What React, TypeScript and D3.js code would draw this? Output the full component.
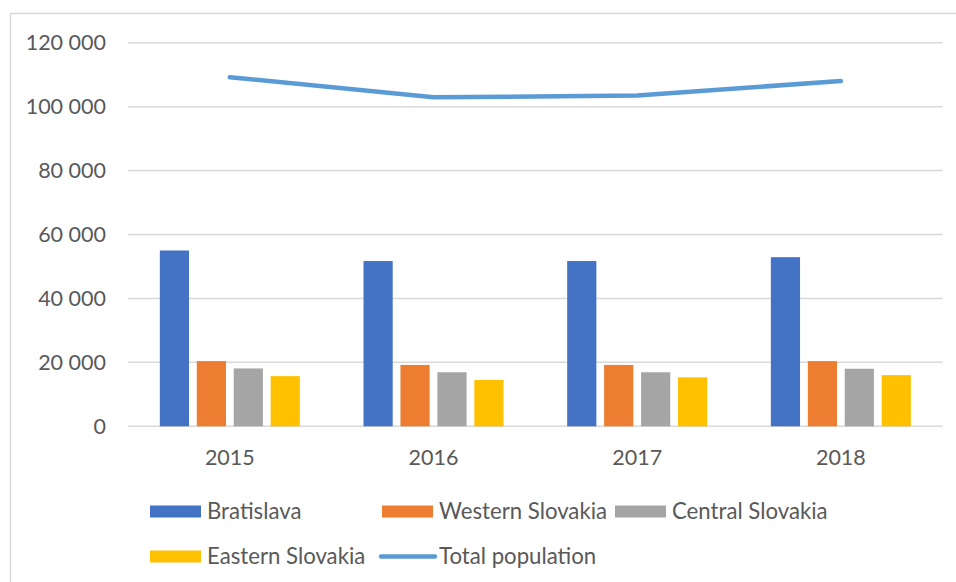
import React from "react";
import * as d3 from "d3";

const years = ["2015", "2016", "2017", "2018"];
const seriesNames = ["Bratislava", "Western Slovakia", "Central Slovakia", "Eastern Slovakia"];
const bratislava = [55000, 51700, 51700, 52900];
const western = [20400, 19200, 19200, 20400];
const central = [18100, 16900, 16900, 18000];
const eastern = [15700, 14500, 15300, 16000];
const total = [109200, 102900, 103500, 108000];
const yTicks = [0, 20000, 40000, 60000, 80000, 100000, 120000];
const lineName = "Total population";

const barColors = ["#4472C4", "#ED7D31", "#A5A5A5", "#FFC000"];
const lineColor = "#5B9BD5";
const textColor = "#595959";
const gridColor = "#D9D9D9";
const font = "Lato, 'Open Sans', sans-serif";

const W = 956;
const H = 582;

export default function App() {
  const seriesValues = [bratislava, western, central, eastern];
  const x = d3.scaleBand<string>().domain(years).range([128, 942.7]).padding(0);
  const y = d3.scaleLinear().domain([0, 120000]).range([426.3, 42.7]);
  const inner = d3.scaleBand<string>().domain(seriesNames).range([-70, 70]).paddingInner(0.21).paddingOuter(0);
  const fmt = d3.formatLocale({ thousands: " ", grouping: [3], decimal: ",", currency: ["", ""] }).format(",");
  const cx = (yr: string) => (x(yr) as number) + x.bandwidth() / 2;
  const line = d3
    .line<number>()
    .x((_, i) => cx(years[i]))
    .y((d) => y(d))
    .curve(d3.curveLinear);

  const legendRow1 = 511.5;
  const legendRow2 = 556.5;
  const legendItems = [
    { name: seriesNames[0], color: barColors[0], sx: 150, tx: 207, cy: legendRow1, type: "bar" },
    { name: seriesNames[1], color: barColors[1], sx: 382, tx: 439, cy: legendRow1, type: "bar" },
    { name: seriesNames[2], color: barColors[2], sx: 615, tx: 672, cy: legendRow1, type: "bar" },
    { name: seriesNames[3], color: barColors[3], sx: 150, tx: 207, cy: legendRow2, type: "bar" },
    { name: lineName, color: lineColor, sx: 381, tx: 439, cy: legendRow2, type: "line" },
  ];

  return (
    <div style={{ position: "absolute", left: 0, top: 0 }}>
      <svg width={W} height={H} style={{ display: "block", background: "#fff" }}>
        <rect x={10.5} y={13.5} width={980} height={620} fill="#fff" stroke={gridColor} strokeWidth={1.5} />
        {yTicks.map((t) => (
          <g key={t}>
            <line x1={128} x2={942.7} y1={y(t)} y2={y(t)} stroke={gridColor} strokeWidth={1.5} />
            <text x={106} y={y(t) + 7.5} textAnchor="end" fontFamily={font} fontSize={21.5} fill={textColor}>
              {fmt(t)}
            </text>
          </g>
        ))}
        {seriesValues.map((vals, si) =>
          vals.map((v, i) => (
            <rect
              key={`${si}-${i}`}
              x={cx(years[i]) + (inner(seriesNames[si]) as number)}
              y={y(v)}
              width={inner.bandwidth()}
              height={y(0) - y(v)}
              fill={barColors[si]}
            />
          ))
        )}
        <path
          d={line(total) || ""}
          fill="none"
          stroke={lineColor}
          strokeWidth={4.5}
          strokeLinecap="round"
          strokeLinejoin="round"
        />
        {years.map((yr) => (
          <text key={yr} x={cx(yr)} y={465} textAnchor="middle" fontFamily={font} fontSize={21.5} fill={textColor}>
            {yr}
          </text>
        ))}
        {legendItems.map((it) => (
          <g key={it.name}>
            {it.type === "bar" ? (
              <rect x={it.sx} y={it.cy - 6} width={51} height={12} fill={it.color} />
            ) : (
              <line x1={it.sx} x2={it.sx + 54} y1={it.cy} y2={it.cy} stroke={it.color} strokeWidth={4.5} strokeLinecap="round" />
            )}
            <text x={it.tx} y={it.cy + 7.5} fontFamily={font} fontSize={22.2} fill={textColor}>
              {it.name}
            </text>
          </g>
        ))}
      </svg>
    </div>
  );
}
